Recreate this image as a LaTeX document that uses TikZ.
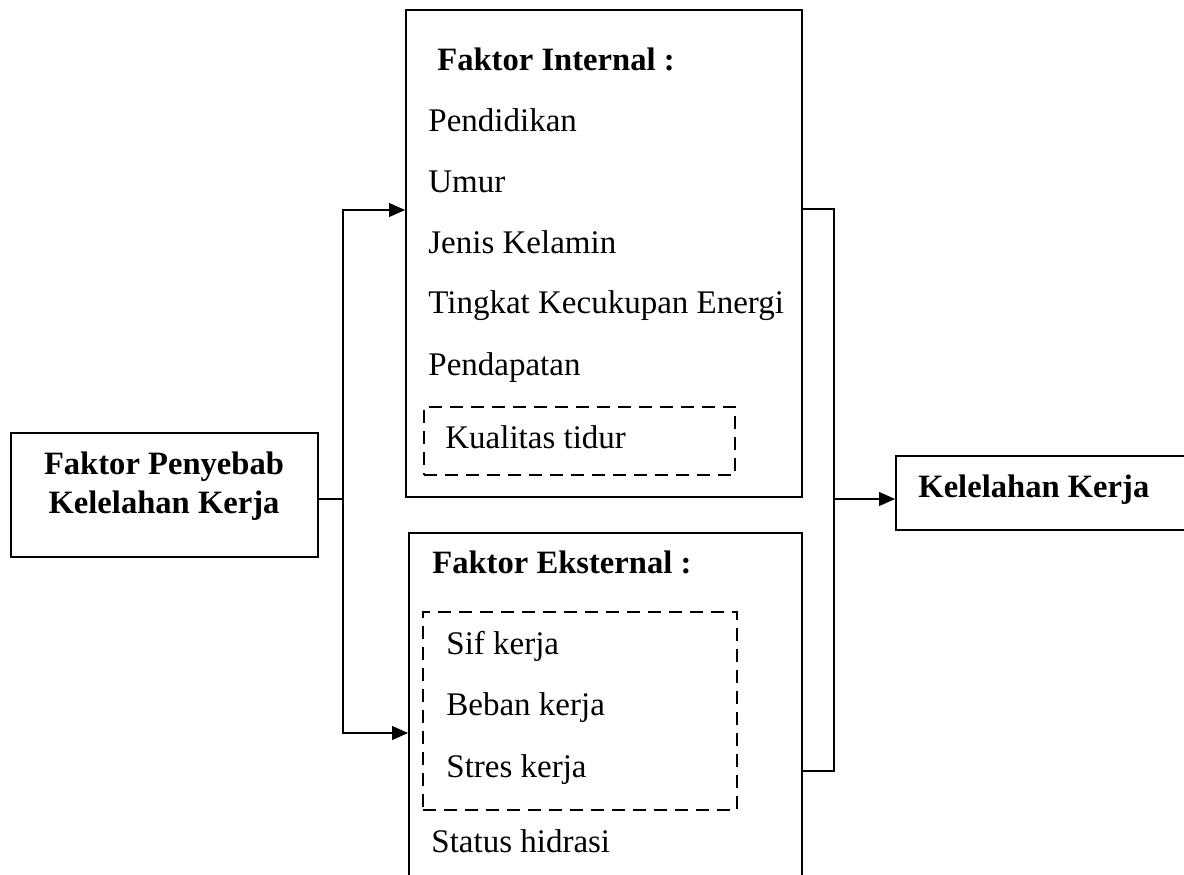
\documentclass[tikz,border=0pt]{standalone}
\usepackage{fontspec}
\setmainfont{Liberation Serif}
\usetikzlibrary{arrows.meta}

\begin{document}
\begin{tikzpicture}[x=0.5pt,y=-0.5pt,
    box/.style={draw,line width=1pt,inner sep=0pt},
    dbox/.style={draw,line width=0.8pt,dash pattern=on 6.5pt off 4pt,inner sep=0pt},
    txt/.style={anchor=base west,inner sep=0pt,font=\fontsize{16.5}{19}\selectfont},
    bold/.style={txt,font=\fontsize{16.3}{19}\selectfont\bfseries},
    link/.style={line width=0.55pt},
    arrow/.style={link,-{Triangle[length=8pt,width=7pt]}}]
    \useasboundingbox (0,0) rectangle (1184,874);
    \clip (0,0) rectangle (1184,874);

    % boxes
    \node[box,minimum width=153.5pt,minimum height=62pt] (penyebab) at (164.5,495) {};
    \node[box,minimum width=198pt,minimum height=243.5pt] (internal) at (604,253.5) {};
    \node[box,minimum width=196.5pt,minimum height=183.5pt] (external) at (605.5,716.5) {};
    \node[box,minimum width=152pt,minimum height=37pt] (hasil) at (1048,493) {};
    \node[dbox,minimum width=155.5pt,minimum height=34pt] (tidur) at (579.5,441) {};
    \node[dbox,minimum width=157pt,minimum height=99pt] (kerja) at (580,711) {};

    % texts
    \node[bold,anchor=base] (pen1) at (164,474) {Faktor Penyebab};
    \node[bold,anchor=base] (pen2) at (164,513) {Kelelahan Kerja};

    \node[bold] (intTitle) at (437,70) {Faktor Internal :};
    \node[txt] (pendidikan) at (428,131) {Pendidikan};
    \node[txt] (umur) at (428,192) {Umur};
    \node[txt] (jenis) at (428,253) {Jenis Kelamin};
    \node[txt] (tingkat) at (428,313) {Tingkat Kecukupan Energi};
    \node[txt] (pendapatan) at (428,375) {Pendapatan};
    \node[txt] (kualitas) at (445,448) {Kualitas tidur};

    \node[bold] (extTitle) at (432,573) {Faktor Eksternal :};
    \node[txt] (sif) at (446,654) {Sif kerja};
    \node[txt] (beban) at (446,715) {Beban kerja};
    \node[txt] (stres) at (446,777) {Stres kerja};
    \node[txt] (hidrasi) at (431,852) {Status hidrasi};

    \node[bold] (hasilText) at (918,497) {Kelelahan Kerja};

    % connectors
    \coordinate (lsplit) at (343,499);
    \coordinate (ltop) at (343,210);
    \coordinate (lbot) at (343,733);
    \coordinate (rsplit) at (834,499);
    \coordinate (rtop) at (834,209);
    \coordinate (rbot) at (834,771);

    \draw[link] (penyebab.east |- lsplit) -- (lsplit);
    \draw[arrow] (lsplit) -- (ltop) -- (ltop -| internal.west);
    \draw[arrow] (lsplit) -- (lbot) -- (lbot -| external.west);

    \draw[link] (rtop -| internal.east) -- (rtop) -- (rbot) -- (rbot -| external.east);
    \draw[arrow] (rsplit) -- (rsplit -| hasil.west);
\end{tikzpicture}
\end{document}
